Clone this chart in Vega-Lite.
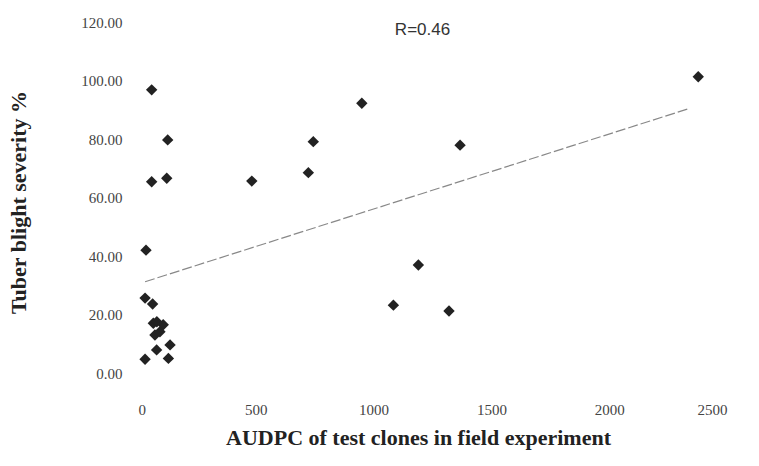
{
  "$schema": "https://vega.github.io/schema/vega-lite/v6.json",
  "width": 589,
  "height": 351,
  "autosize": {"type": "none"},
  "padding": {"left": 138, "top": 22, "right": 32, "bottom": 93},
  "background": "white",
  "title": {
    "text": "R=0.46",
    "font": "Liberation Sans",
    "fontSize": 17,
    "fontWeight": "normal",
    "color": "#333333",
    "anchor": "middle",
    "dx": -10,
    "dy": 28
  },
  "config": {
    "view": {"stroke": null},
    "axis": {
      "domain": false,
      "ticks": false,
      "grid": false,
      "labelFont": "Liberation Serif",
      "labelFontSize": 15,
      "labelColor": "#444444",
      "titleFont": "Liberation Serif",
      "titleFontWeight": "bold",
      "titleFontSize": 22,
      "titleColor": "#222222"
    }
  },
  "datasets": {
    "points": [
      {"audpc": 58, "severity": 96.8},
      {"audpc": 126, "severity": 79.7},
      {"audpc": 58, "severity": 65.4},
      {"audpc": 122, "severity": 66.6},
      {"audpc": 34, "severity": 42},
      {"audpc": 30, "severity": 25.6},
      {"audpc": 62, "severity": 23.6},
      {"audpc": 65, "severity": 17},
      {"audpc": 107, "severity": 16.5},
      {"audpc": 72, "severity": 13},
      {"audpc": 93, "severity": 14.1},
      {"audpc": 80, "severity": 17.5},
      {"audpc": 136, "severity": 9.6},
      {"audpc": 79, "severity": 7.9},
      {"audpc": 30, "severity": 4.7},
      {"audpc": 129, "severity": 5},
      {"audpc": 950, "severity": 92.2},
      {"audpc": 744, "severity": 79.1},
      {"audpc": 723, "severity": 68.5},
      {"audpc": 483, "severity": 65.6},
      {"audpc": 2378, "severity": 101.3},
      {"audpc": 1367, "severity": 77.9},
      {"audpc": 1190, "severity": 36.9},
      {"audpc": 1084, "severity": 23.2},
      {"audpc": 1320, "severity": 21.2}
    ],
    "trend": [
      {"audpc": 30, "severity": 31.2},
      {"audpc": 2343, "severity": 90.5}
    ]
  },
  "layer": [
    {
      "data": {"name": "trend"},
      "mark": {"type": "line", "color": "#888888", "strokeWidth": 1.2, "strokeDash": [10, 3]},
      "encoding": {
        "x": {"field": "audpc", "type": "quantitative"},
        "y": {"field": "severity", "type": "quantitative"}
      }
    },
    {
      "data": {"name": "points"},
      "mark": {"type": "point", "shape": "diamond", "filled": true, "color": "#222222", "size": 130, "opacity": 1},
      "encoding": {
        "x": {
          "field": "audpc",
          "type": "quantitative",
          "scale": {"domain": [0, 2500], "nice": false},
          "axis": {
            "values": [0, 500, 1000, 1500, 2000, 2500],
            "format": "d",
            "labelPadding": 29,
            "title": "AUDPC of test clones in field experiment",
            "titlePadding": 10,
            "titleX": 280
          }
        },
        "y": {
          "field": "severity",
          "type": "quantitative",
          "scale": {"domain": [0, 120], "nice": false},
          "axis": {
            "values": [0, 20, 40, 60, 80, 100, 120],
            "format": ".2f",
            "labelPadding": 16,
            "title": "Tuber blight severity %",
            "titlePadding": 50,
            "titleY": 180
          }
        }
      }
    }
  ]
}
